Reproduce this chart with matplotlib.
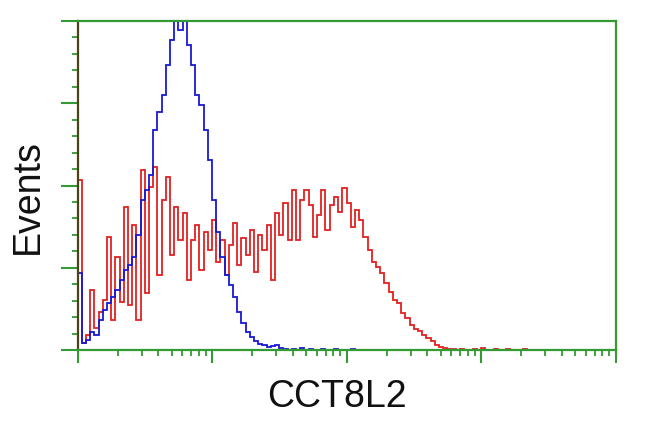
import numpy as np
import matplotlib
matplotlib.use("Agg")
import matplotlib.pyplot as plt
from matplotlib.ticker import MultipleLocator, LogLocator, NullFormatter

# Histogram counts per channel (128 log-spaced channels over 4 decades)
red_counts = [
    207, 9, 18, 73, 27, 46, 61, 137, 36, 113,
    58, 174, 55, 152, 36, 219, 69, 198, 222, 91,
    182, 210, 116, 174, 134, 167, 85, 134, 152, 97,
    143, 122, 158, 107, 134, 91, 128, 154, 103, 136,
    116, 146, 95, 140, 122, 152, 85, 167, 140, 179,
    134, 195, 134, 182, 195, 176, 137, 164, 195, 146,
    176, 186, 168, 197, 179, 150, 170, 158, 137, 122,
    107, 101, 94, 81, 71, 61, 57, 45, 39, 30,
    26, 23, 18, 15, 11, 6, 4, 2, 1, 1,
    0, 1, 0, 0, 1, 0, 2, 0, 0, 1,
    0, 0, 1, 0, 0, 0, 1, 0, 0, 0,
    0, 0, 0, 0, 0, 0, 0, 0, 0, 0,
    0, 0, 0, 0, 0, 0, 0, 0,
]
blue_counts = [
    94, 9, 12, 22, 18, 36, 49, 57, 64, 73,
    85, 97, 103, 113, 140, 182, 195, 213, 268, 289,
    310, 347, 377, 415, 389, 415, 371, 347, 310, 298,
    268, 231, 182, 143, 113, 91, 79, 64, 46, 33,
    22, 16, 11, 7, 6, 4, 5, 6, 2, 1,
    0, 1, 0, 2, 0, 1, 0, 0, 1, 0,
    0, 1, 0, 0, 0, 1, 0, 0, 0, 0,
    0, 0, 0, 0, 0, 0, 0, 0, 0, 0,
    0, 0, 0, 0, 0, 0, 0, 0, 0, 0,
    0, 0, 0, 0, 0, 0, 0, 0, 0, 0,
    0, 0, 0, 0, 0, 0, 0, 0, 0, 0,
    0, 0, 0, 0, 0, 0, 0, 0, 0, 0,
    0, 0, 0, 0, 0, 0, 0, 0,
]
x_label = "CCT8L2"
y_label = "Events"

edges = np.logspace(0, 4, len(red_counts) + 1)

GREEN = "#349a34"
fig = plt.figure(figsize=(6.5, 4.32), dpi=100)
ax = fig.add_axes([77.5 / 650, 1 - 350 / 432, 538 / 650, 329 / 432])

ax.stairs(red_counts, edges, color="#e42020", lw=1.3, baseline=None)
ax.stairs(blue_counts, edges, color="#1818d8", lw=1.3, baseline=None)

ax.set_xscale("log")
ax.set_xlim(1, 1e4)
ax.set_ylim(0, 400)
ax.yaxis.set_major_locator(MultipleLocator(100))
ax.yaxis.set_minor_locator(MultipleLocator(20))
ax.xaxis.set_major_locator(LogLocator(base=10, numticks=10))
ax.xaxis.set_minor_locator(LogLocator(base=10, subs=np.arange(2, 10), numticks=20))
ax.xaxis.set_major_formatter(NullFormatter())
ax.xaxis.set_minor_formatter(NullFormatter())
ax.yaxis.set_major_formatter(NullFormatter())

for s in ax.spines.values():
    s.set_color(GREEN)
    s.set_linewidth(1.6)
ax.spines["left"].set_color("#4a4418")
ax.tick_params(axis="x", which="major", direction="out", length=9, width=1.5, color=GREEN)
ax.tick_params(axis="x", which="minor", direction="out", length=4.5, width=1.3, color=GREEN)
ax.tick_params(axis="y", which="major", direction="out", length=12, width=1.5, color=GREEN)
ax.tick_params(axis="y", which="minor", direction="out", length=4.5, width=1.3, color=GREEN)

fig.text(337 / 650, 1 - 397 / 432, x_label, family="Liberation Sans", fontsize=27,
         ha="center", va="center", color="#111111")
fig.text(28 / 650, 1 - 197 / 432, y_label, family="Liberation Sans", fontsize=27,
         rotation=90, ha="center", va="center", color="#111111")

fig.savefig("out.png", dpi=100)
